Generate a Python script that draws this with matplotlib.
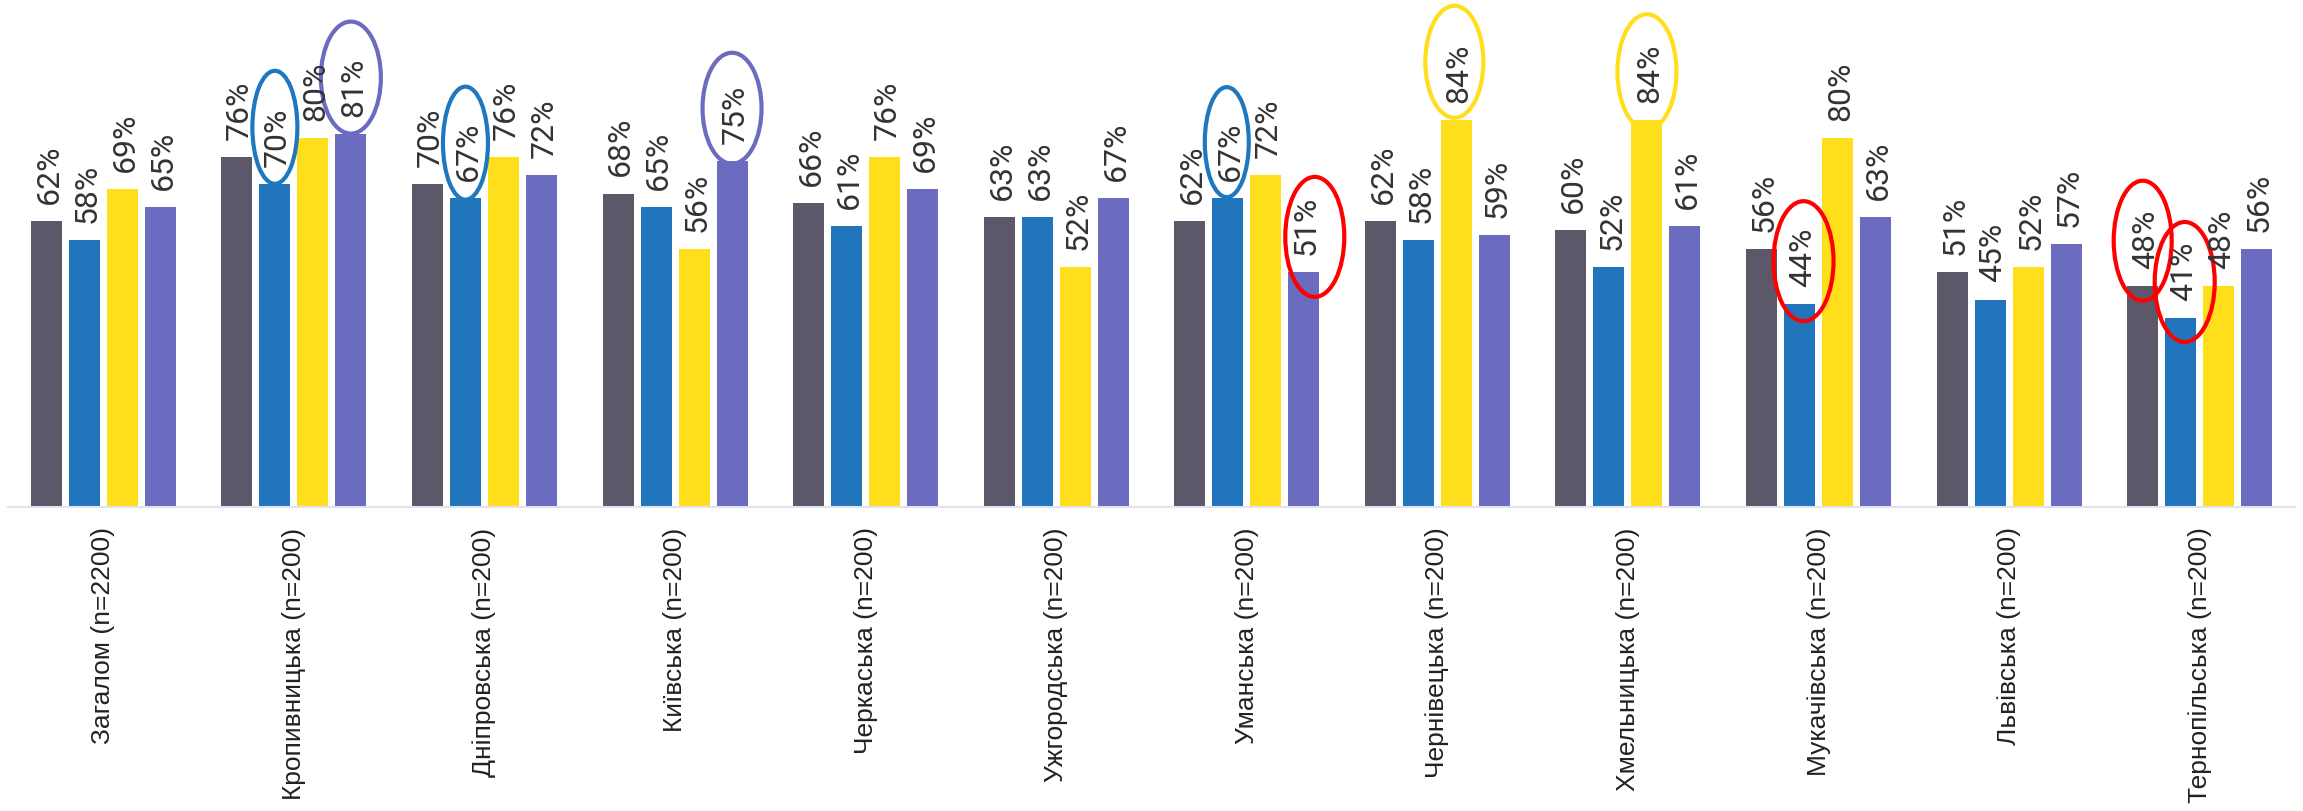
import matplotlib
matplotlib.use("Agg")
import matplotlib.pyplot as plt
from matplotlib.patches import Ellipse

categories = ["Загалом (n=2200)", "Кропивницька (n=200)", "Дніпровська (n=200)",
              "Київська (n=200)", "Черкаська (n=200)", "Ужгородська (n=200)",
              "Уманська (n=200)", "Чернівецька (n=200)", "Хмельницька (n=200)",
              "Мукачівська (n=200)", "Львівська (n=200)", "Тернопільська (n=200)"]
series_gray = [62, 76, 70, 68, 66, 63, 62, 62, 60, 56, 51, 48]
series_blue = [58, 70, 67, 65, 61, 63, 67, 58, 52, 44, 45, 41]
series_yellow = [69, 80, 76, 56, 76, 52, 72, 84, 84, 80, 52, 48]
series_purple = [65, 81, 72, 75, 69, 67, 51, 59, 61, 63, 57, 56]

colors = ["#5c5869", "#2075bc", "#ffdf1b", "#6b6bbf"]
series = [series_gray, series_blue, series_yellow, series_purple]

# highlighted labels: (category index, series index, ring colour, dx px, dy px, w px, h px)
highlights = [
    (1, 1, "#1f77c0", 0, 57, 45, 113),
    (1, 3, "#6b6bbf", 0, 56, 60, 112),
    (2, 1, "#1f77c0", 0, 55, 45, 113),
    (3, 3, "#6b6bbf", 0, 53, 59, 111),
    (6, 1, "#1f77c0", -1, 56, 44, 110),
    (6, 3, "#ff0000", 11, 35, 59, 120),
    (7, 2, "#ffdf1b", -2, 58, 58, 112),
    (8, 2, "#ffdf1b", 0, 48, 59, 115),
    (9, 1, "#ff0000", 4, 43, 60, 120),
    (11, 0, "#ff0000", 0, 45, 58, 120),
    (11, 1, "#ff0000", 4, 36, 60, 120),
]

W, H = 2303, 812
fig = plt.figure(figsize=(W / 100, H / 100), dpi=100)
ax_left, ax_right = 8, 2295
baseline = 508
ax = fig.add_axes([ax_left / W, (H - baseline) / H, (ax_right - ax_left) / W, baseline / H])
xlim = (-0.5, 11.5)
ymax = baseline / 4.61
ax.set_xlim(*xlim)
ax.set_ylim(0, ymax)
px_x = (ax_right - ax_left) / (xlim[1] - xlim[0])
px_y = baseline / ymax

pitch = 38 / px_x
bw = 31 / px_x
offsets = [(-1.5 + k) * pitch for k in range(4)]

for s, vals in enumerate(series):
    xs = [i + offsets[s] for i in range(len(categories))]
    ax.bar(xs, vals, width=bw, color=colors[s], zorder=2)
    for x, v in zip(xs, vals):
        ax.annotate(f"{v}%", (x, v), xytext=(2, 13), textcoords="offset points",
                    rotation=90, ha="center", va="bottom", fontsize=23,
                    family="Roboto", color="#333333", zorder=4)

for ci, si, col, dx, dy, w, h in highlights:
    v = series[si][ci]
    cx = ci + offsets[si] + dx / px_x
    cy = v + dy / px_y
    e = Ellipse((cx, cy), w / px_x, h / px_y, fill=False, edgecolor=col,
                linewidth=3, zorder=3, clip_on=False)
    ax.add_patch(e)

for sp in ["top", "left", "right"]:
    ax.spines[sp].set_visible(False)
ax.spines["bottom"].set_color("#e3e3f0")
ax.spines["bottom"].set_linewidth(1.5)
ax.set_yticks([])
ax.set_xticks(range(len(categories)))
ax.set_xticklabels(categories, rotation=90, fontsize=19, family="Liberation Sans",
                   color="#222222")
ax.tick_params(axis="x", length=0, pad=14)

fig.savefig("out.png", dpi=100)
